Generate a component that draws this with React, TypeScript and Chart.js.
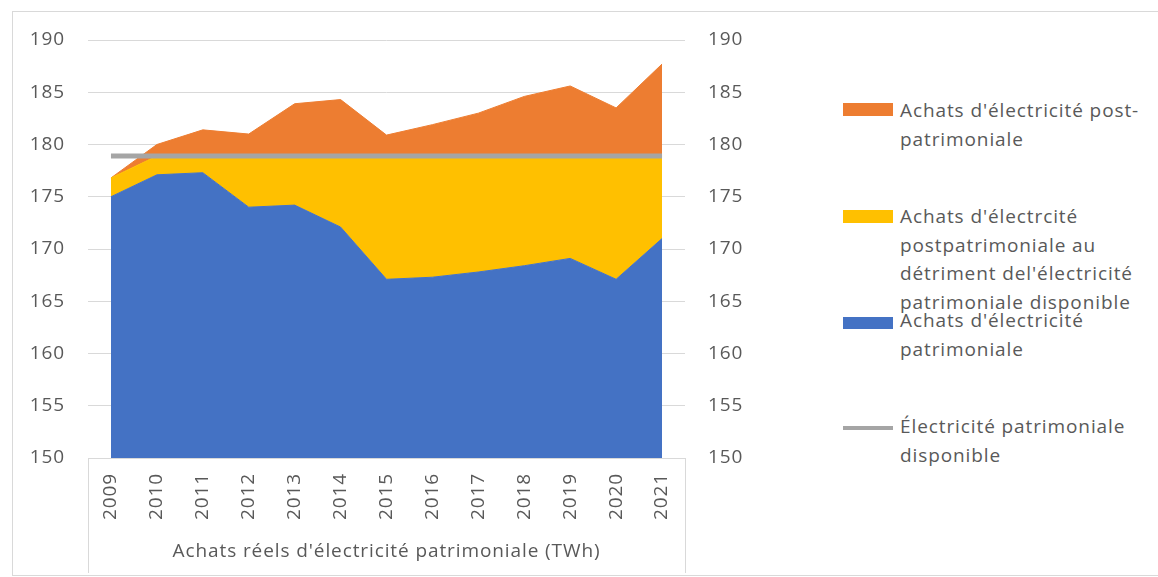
import React, { useEffect, useRef } from 'react';
import { Chart, registerables } from 'chart.js';

Chart.register(...registerables);

// ---- data (TWh) ----
const years = ['2009', '2010', '2011', '2012', '2013', '2014', '2015', '2016', '2017', '2018', '2019', '2020', '2021'];
const achatsPatrimoniale = [175.0, 177.1, 177.3, 174.0, 174.2, 172.1, 167.1, 167.3, 167.8, 168.4, 169.1, 167.1, 171.0];
const achatsPostDetriment = [1.8, 1.8, 1.6, 4.9, 4.7, 6.8, 11.8, 11.6, 11.1, 10.5, 9.8, 11.8, 7.9];
const achatsPost = [0, 1.1, 2.5, 2.1, 5.0, 5.4, 2.0, 3.0, 4.1, 5.7, 6.7, 4.6, 8.8];
const disponible = [178.9, 178.9, 178.9, 178.9, 178.9, 178.9, 178.9, 178.9, 178.9, 178.9, 178.9, 178.9, 178.9];

const yMin = 150;
const yMax = 190;
const yStep = 5;

const axisTitle = "Achats réels d'électricité patrimoniale (TWh)";

const labelPost = ["Achats d'électricité post-", 'patrimoniale'];
const labelDetriment = ["Achats d'électrcité", 'postpatrimoniale au', "détriment del'électricité", 'patrimoniale disponible'];
const labelPatri = ["Achats d'électricité", 'patrimoniale'];
const labelDispo = ['Électricité patrimoniale', 'disponible'];

const C_ORANGE = '#ED7D31';
const C_YELLOW = '#FFC000';
const C_BLUE = '#4472C4';
const C_GRAY = '#A5A5A5';
const C_TEXT = '#595959';
const C_GRID = '#D9D9D9';
const FONT = "'Open Sans', sans-serif";
const SPACING = '0.9px';

const decor = {
  id: 'decor',
  beforeUpdate(chart: any) {
    chart.ctx.letterSpacing = SPACING;
  },
  beforeDraw(chart: any) {
    chart.ctx.letterSpacing = SPACING;
  },
  afterDraw(chart: any) {
    const { ctx, chartArea } = chart;
    ctx.save();
    ctx.strokeStyle = C_GRID;
    ctx.lineWidth = 1;
    ctx.beginPath();
    [chartArea.left, chartArea.right].forEach((x: number) => {
      const px = Math.round(x) + 0.5;
      ctx.moveTo(px, chartArea.bottom);
      ctx.lineTo(px, chart.height - 4);
    });
    ctx.stroke();
    ctx.restore();
  },
};

export default function App() {
  const ref = useRef<HTMLCanvasElement | null>(null);

  useEffect(() => {
    if (!ref.current) return;
    const chart = new Chart(ref.current, {
      type: 'line',
      data: {
        labels: years,
        datasets: [
          {
            label: labelDispo.join(' '),
            data: disponible,
            stack: 'dispo',
            borderColor: C_GRAY,
            backgroundColor: C_GRAY,
            borderWidth: 5,
            borderCapStyle: 'butt',
            pointRadius: 0,
            fill: false,
            order: 0,
          },
          {
            label: labelPatri.join(' '),
            data: achatsPatrimoniale,
            stack: 'achats',
            borderColor: C_BLUE,
            backgroundColor: C_BLUE,
            borderWidth: 1,
            pointRadius: 0,
            fill: 'origin',
            order: 1,
          },
          {
            label: labelDetriment.join(' '),
            data: achatsPostDetriment,
            stack: 'achats',
            borderColor: C_YELLOW,
            backgroundColor: C_YELLOW,
            borderWidth: 1,
            pointRadius: 0,
            fill: '-1',
            order: 2,
          },
          {
            label: labelPost.join(''),
            data: achatsPost,
            stack: 'achats',
            borderColor: C_ORANGE,
            backgroundColor: C_ORANGE,
            borderWidth: 1,
            pointRadius: 0,
            fill: '-1',
            order: 3,
          },
        ],
      },
      options: {
        animation: false,
        responsive: false,
        devicePixelRatio: 1,
        layout: { padding: { top: 40, left: 0, right: 0, bottom: 0 } },
        plugins: {
          legend: { display: false },
          tooltip: { enabled: false },
        },
        scales: {
          x: {
            offset: true,
            grid: { drawOnChartArea: false, drawTicks: false },
            border: { display: true, color: C_GRID },
            ticks: {
              autoSkip: false,
              minRotation: 90,
              maxRotation: 90,
              padding: 15,
              color: C_TEXT,
              font: { family: FONT, size: 19 },
            },
            title: {
              display: true,
              text: axisTitle,
              color: C_TEXT,
              font: { family: FONT, size: 19 },
              padding: { top: 0, bottom: 14 },
            },
            afterFit: (s: any) => {
              s.height = 119;
            },
          },
          y: {
            stacked: true,
            min: yMin,
            max: yMax,
            position: 'left',
            ticks: { stepSize: yStep, padding: 23, color: C_TEXT, font: { family: FONT, size: 19 } },
            grid: { color: C_GRID, drawTicks: false },
            border: { display: false },
            afterFit: (s: any) => {
              s.width = 88;
            },
          },
          y2: {
            min: yMin,
            max: yMax,
            position: 'right',
            ticks: { stepSize: yStep, padding: 23, color: C_TEXT, font: { family: FONT, size: 19 } },
            grid: { display: false, drawTicks: false },
            border: { display: false },
            afterFit: (s: any) => {
              s.width = 75;
            },
          },
        },
      },
      plugins: [decor],
    });
    return () => chart.destroy();
  }, []);

  const legendItems = [
    { lines: labelPost, color: C_ORANGE, kind: 'box', swTop: 103, swH: 13, textTop: 96 },
    { lines: labelDetriment, color: C_YELLOW, kind: 'box', swTop: 210, swH: 13, textTop: 202 },
    { lines: labelPatri, color: C_BLUE, kind: 'box', swTop: 317, swH: 12, textTop: 306 },
    { lines: labelDispo, color: C_GRAY, kind: 'line', swTop: 426, swH: 4, textTop: 412 },
  ];

  return (
    <div
      style={{
        position: 'fixed',
        left: 0,
        top: 0,
        width: 1158,
        height: 577,
        overflow: 'hidden',
        background: '#fff',
      }}
    >
      <div
        style={{
          position: 'absolute',
          left: 12,
          top: 11,
          width: 1170,
          height: 565,
          border: `1px solid ${C_GRID}`,
          boxSizing: 'border-box',
        }}
      />
      <canvas
        ref={ref}
        width={760}
        height={577}
        style={{ position: 'absolute', left: 0, top: 0, width: 760, height: 577 }}
      />
      {legendItems.map((it, i) => (
        <React.Fragment key={i}>
          <div
            style={{
              position: 'absolute',
              left: 843,
              top: it.swTop,
              width: 50,
              height: it.swH,
              background: it.color,
            }}
          />
          <div
            style={{
              position: 'absolute',
              left: 900,
              top: it.textTop,
              fontFamily: FONT,
              fontSize: 19,
              lineHeight: '28.5px',
              letterSpacing: SPACING,
              color: C_TEXT,
              whiteSpace: 'nowrap',
            }}
          >
            {it.lines.map((l, j) => (
              <div key={j}>{l}</div>
            ))}
          </div>
        </React.Fragment>
      ))}
    </div>
  );
}
